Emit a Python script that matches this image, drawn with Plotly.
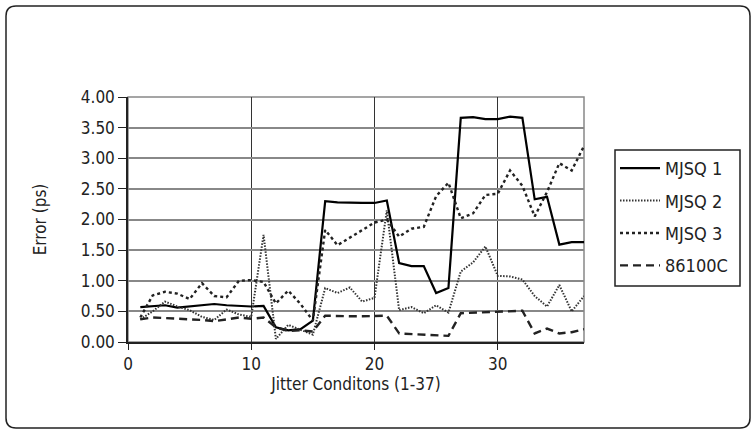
import plotly.graph_objects as go

conditions = list(range(1, 38))
mjsq1 = [0.57, 0.58, 0.60, 0.56, 0.58, 0.60, 0.62, 0.60, 0.59, 0.58, 0.59,
         0.24, 0.19, 0.21, 0.35, 2.30, 2.28, 2.27, 2.27, 2.27, 2.31,
         1.29, 1.24, 1.24, 0.80, 0.88, 3.66, 3.67, 3.64, 3.64, 3.68, 3.66,
         2.33, 2.37, 1.59, 1.63, 1.63]
mjsq2 = [0.37, 0.50, 0.66, 0.58, 0.52, 0.41, 0.36, 0.53, 0.45, 0.41, 1.75,
         0.05, 0.28, 0.20, 0.12, 0.88, 0.80, 0.89, 0.66, 0.72, 2.15,
         0.52, 0.57, 0.47, 0.60, 0.48, 1.15, 1.30, 1.56, 1.08, 1.07, 1.02,
         0.75, 0.58, 0.93, 0.50, 0.75]
mjsq3 = [0.40, 0.76, 0.82, 0.79, 0.70, 0.96, 0.75, 0.73, 1.00, 1.01, 0.98,
         0.63, 0.84, 0.62, 0.35, 1.83, 1.58, 1.70, 1.82, 1.95, 2.00,
         1.72, 1.85, 1.88, 2.38, 2.60, 2.02, 2.10, 2.40, 2.42, 2.80, 2.55,
         2.05, 2.45, 2.92, 2.80, 3.20]
agilent = [0.37, 0.40, 0.39, 0.38, 0.38, 0.36, 0.34, 0.37, 0.40, 0.38, 0.40,
           0.24, 0.18, 0.19, 0.17, 0.43, 0.42, 0.42, 0.42, 0.42, 0.43,
           0.14, 0.13, 0.11, 0.10, 0.10, 0.47, 0.48, 0.48, 0.49, 0.50, 0.51,
           0.14, 0.22, 0.14, 0.16, 0.21]
series_names = ["MJSQ 1", "MJSQ 2", "MJSQ 3", "86100C"]
y_ticks = [0, 0.5, 1, 1.5, 2, 2.5, 3, 3.5, 4]
x_ticks = [0, 10, 20, 30]

FONT = "Liberation Sans Narrow, DejaVu Sans Condensed, Arial Narrow, Roboto, sans-serif"

W, H = 755, 435
L, R, T, B = 128, 584, 97, 342

styles = [
    dict(color="black", width=2.2, dash="solid"),
    dict(color="#333", width=2.0, dash="1.5px,1.5px"),
    dict(color="#222", width=2.4, dash="3px,3px"),
    dict(color="#222", width=2.4, dash="8px,5px"),
]

fig = go.Figure()
for i, (name, ys) in enumerate(zip(series_names, [mjsq1, mjsq2, mjsq3, agilent])):
    fig.add_trace(go.Scatter(x=conditions, y=ys, name=name, mode="lines",
                             line=styles[i], legendgroup=name))

def px(x):
    return (x - L) / (R - L)

def py(y):
    return (B - y) / (B - T)

fx0, fy0, fx1, fy1, rr = 6, 6, 750, 428, 10
path = (f"M {px(fx0+rr)},{py(fy0)} L {px(fx1-rr)},{py(fy0)} "
        f"Q {px(fx1)},{py(fy0)} {px(fx1)},{py(fy0+rr)} "
        f"L {px(fx1)},{py(fy1-rr)} Q {px(fx1)},{py(fy1)} {px(fx1-rr)},{py(fy1)} "
        f"L {px(fx0+rr)},{py(fy1)} Q {px(fx0)},{py(fy1)} {px(fx0)},{py(fy1-rr)} "
        f"L {px(fx0)},{py(fy0+rr)} Q {px(fx0)},{py(fy0)} {px(fx0+rr)},{py(fy0)} Z")

fig.update_layout(
    width=W, height=H,
    margin=dict(l=L, r=W - R, t=T, b=H - B, pad=0),
    paper_bgcolor="white", plot_bgcolor="white",
    font=dict(family=FONT, size=17, color="#222"),
    showlegend=True,
    legend=dict(x=px(615), y=py(150), xanchor="left", yanchor="top",
                xref="paper", yref="paper",
                borderwidth=0, bgcolor="rgba(0,0,0,0)",
                font=dict(size=18), tracegroupgap=6, itemwidth=40,
                traceorder="grouped"),
    shapes=[dict(type="path", path=path, xref="paper", yref="paper",
                 line=dict(color="#222", width=1.5), layer="below"),
            dict(type="rect", xref="paper", yref="paper",
                 x0=px(615), x1=px(740), y0=py(286), y1=py(150),
                 line=dict(color="#222", width=1.5), fillcolor="white", layer="below")],
    xaxis=dict(range=[0, 37], tickvals=x_ticks, showgrid=True,
               gridcolor="#333", gridwidth=1, showline=True, linecolor="#222",
               linewidth=1.5, mirror=False, ticks="outside", ticklen=6,
               tickcolor="#222", zeroline=False,
               title=dict(text="Jitter Conditons (1-37)", font=dict(size=17), standoff=0)),
    yaxis=dict(range=[0, 4], tickvals=y_ticks, tickformat=".2f", showgrid=True,
               gridcolor="#888", gridwidth=1.5, showline=True, linecolor="#222",
               linewidth=1.5, ticks="outside", ticklen=8, tickcolor="#222",
               zeroline=False,
               title=dict(text="Error (ps)", font=dict(size=17), standoff=30)),
)
fig.add_shape(type="rect", xref="paper", yref="paper", x0=0, y0=0, x1=1, y1=1,
              line=dict(color="#888", width=1.5), layer="below")

fig.write_html("out.html", config={"displayModeBar": False},
               post_script="document.body.style.margin='0';")
